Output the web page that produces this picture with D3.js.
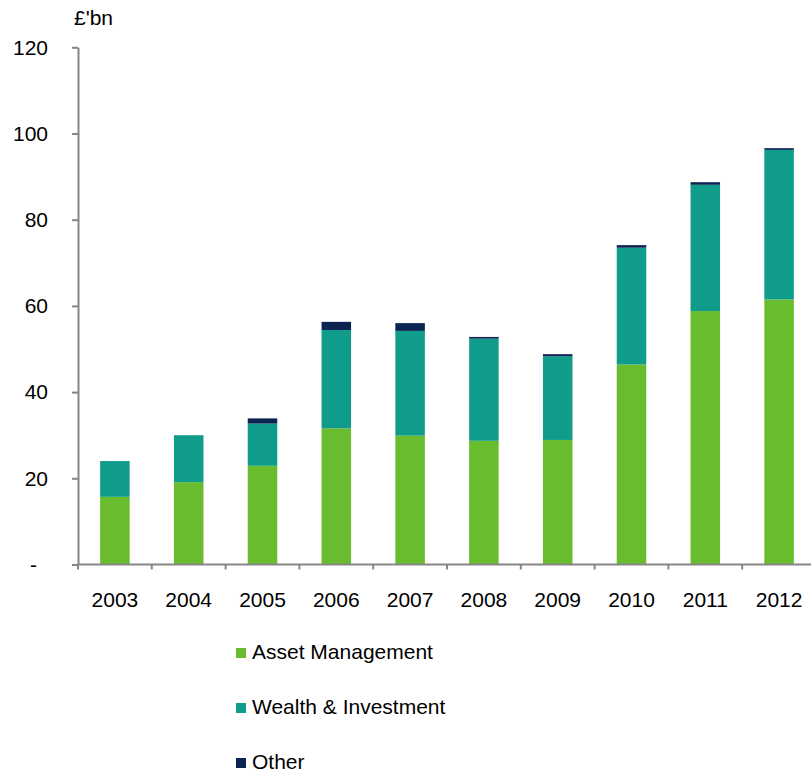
<!DOCTYPE html>
<html>
<head>
<meta charset="utf-8">
<script src="https://cdn.jsdelivr.net/npm/d3@7"></script>
<style>
  html, body { margin: 0; padding: 0; background: #fff; }
  svg { display: block; font-family: Arial, "Liberation Sans", sans-serif; }
</style>
</head>
<body>
<svg id="chart" width="811" height="773"></svg>
<script>
// Funds under management by business line, £ billions
const years = ["2003", "2004", "2005", "2006", "2007", "2008", "2009", "2010", "2011", "2012"];
const assetManagement = [15.7, 19.1, 22.9, 31.6, 29.9, 28.7, 28.9, 46.4, 58.8, 61.5];
const wealthInvestment = [8.3, 10.9, 9.8, 22.8, 24.3, 23.7, 19.4, 27.1, 29.3, 34.7];
const other = [0, 0, 1.2, 1.9, 1.8, 0.4, 0.5, 0.6, 0.6, 0.4];
const seriesNames = ["Asset Management", "Wealth & Investment", "Other"];
const seriesColors = ["#69bc2d", "#0f9c8b", "#0b2452"];
const yTicks = [0, 20, 40, 60, 80, 100, 120];
const unitLabel = "£'bn";

const svg = d3.select("#chart");
const axisColor = "#868686";
const fontSize = 21;

const table = years.map((y, i) => ({
  year: y,
  [seriesNames[0]]: assetManagement[i],
  [seriesNames[1]]: wealthInvestment[i],
  [seriesNames[2]]: other[i]
}));

const stack = d3.stack().keys(seriesNames)(table);

const x = d3.scaleBand()
  .domain(years)
  .range([78, 816])
  .paddingInner(0.6)
  .paddingOuter(0.3);

const y = d3.scaleLinear()
  .domain([0, 120])
  .range([564.5, 47.3]);

const color = d3.scaleOrdinal().domain(seriesNames).range(seriesColors);

// stacked bars
svg.append("g")
  .selectAll("g")
  .data(stack)
  .join("g")
  .attr("fill", d => color(d.key))
  .selectAll("rect")
  .data(d => d)
  .join("rect")
  .attr("x", d => x(d.data.year))
  .attr("width", x.bandwidth())
  .attr("y", d => y(d[1]))
  .attr("height", d => y(d[0]) - y(d[1]));

// y axis
const yAxis = svg.append("g")
  .attr("transform", `translate(${x.range()[0]},0)`)
  .call(d3.axisLeft(y)
    .tickValues(yTicks)
    .tickSize(6)
    .tickSizeOuter(0)
    .tickPadding(24)
    .tickFormat(d => d === 0 ? "-" : d3.format("d")(d)));
yAxis.select(".domain").attr("stroke", axisColor).attr("stroke-width", 2);
yAxis.selectAll(".tick line").attr("stroke", axisColor).attr("stroke-width", 2);
yAxis.selectAll(".tick text")
  .attr("fill", "#000")
  .style("font-family", "Arial, 'Liberation Sans', sans-serif")
  .style("font-size", fontSize + "px");
yAxis.selectAll(".tick").filter(d => d === 0).select("text").attr("x", -41);

// x axis: line plus ticks at category boundaries
const gap = x.step() - x.bandwidth();
const boundaries = years.map(yr => x(yr) - gap / 2);
const xAxis = svg.append("g");
xAxis.append("line")
  .attr("x1", x.range()[0]).attr("x2", x.range()[1])
  .attr("y1", y(0)).attr("y2", y(0))
  .attr("stroke", axisColor).attr("stroke-width", 2);
xAxis.selectAll("line.tk")
  .data(boundaries)
  .join("line")
  .attr("class", "tk")
  .attr("x1", d => d).attr("x2", d => d)
  .attr("y1", y(0)).attr("y2", y(0) + 5)
  .attr("stroke", axisColor).attr("stroke-width", 2);
xAxis.selectAll("text")
  .data(years)
  .join("text")
  .attr("x", d => x(d) + x.bandwidth() / 2)
  .attr("y", 607)
  .attr("text-anchor", "middle")
  .style("font-size", fontSize + "px")
  .text(d => d);

// unit label
svg.append("text")
  .attr("x", 74)
  .attr("y", 25)
  .style("font-size", fontSize + "px")
  .text(unitLabel);

// legend
const legend = svg.append("g")
  .selectAll("g")
  .data(seriesNames)
  .join("g")
  .attr("transform", (d, i) => `translate(236,${659 + i * 55})`);
legend.append("rect")
  .attr("x", 0).attr("y", -11)
  .attr("width", 10).attr("height", 10)
  .attr("fill", d => color(d));
legend.append("text")
  .attr("x", 16).attr("y", 0)
  .style("font-size", fontSize + "px")
  .text(d => d);
</script>
</body>
</html>
